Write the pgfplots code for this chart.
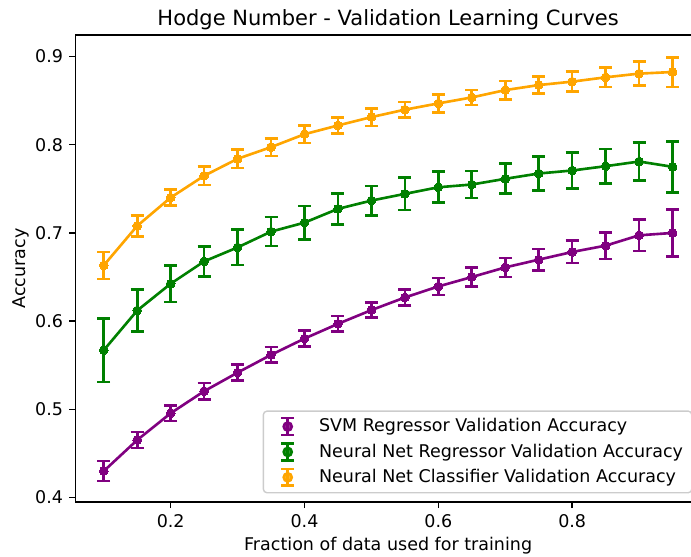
\documentclass[border=0pt]{standalone}
\usepackage{fontspec}
\setmainfont{DejaVu Sans}
\usepackage{pgfplots}
\usepackage{pgfplotstable}
\pgfplotsset{compat=1.18}
\definecolor{mplpurple}{HTML}{800080}
\definecolor{mplgreen}{HTML}{008000}
\definecolor{mplorange}{HTML}{FFA500}

\pgfplotstableread{
x y e
0.10 0.4299 0.0114
0.15 0.4651 0.0090
0.20 0.4955 0.0087
0.25 0.5205 0.0093
0.30 0.5416 0.0090
0.35 0.5617 0.0088
0.40 0.5802 0.0090
0.45 0.5969 0.0090
0.50 0.6125 0.0087
0.55 0.6268 0.0090
0.60 0.6393 0.0097
0.65 0.6500 0.0107
0.70 0.6609 0.0108
0.75 0.6697 0.0120
0.80 0.6784 0.0127
0.85 0.6856 0.0150
0.90 0.6973 0.0177
0.95 0.7000 0.0269
}\svm

\pgfplotstableread{
x y e
0.10 0.5670 0.0360
0.15 0.6120 0.0240
0.20 0.6424 0.0206
0.25 0.6677 0.0168
0.30 0.6836 0.0200
0.35 0.7015 0.0165
0.40 0.7117 0.0190
0.45 0.7273 0.0176
0.50 0.7367 0.0167
0.55 0.7443 0.0183
0.60 0.7518 0.0176
0.65 0.7549 0.0153
0.70 0.7614 0.0170
0.75 0.7674 0.0193
0.80 0.7708 0.0205
0.85 0.7757 0.0195
0.90 0.7810 0.0214
0.95 0.7750 0.0290
}\nnreg

\pgfplotstableread{
x y e
0.10 0.6632 0.0153
0.15 0.7080 0.0120
0.20 0.7401 0.0090
0.25 0.7648 0.0104
0.30 0.7841 0.0104
0.35 0.7973 0.0100
0.40 0.8120 0.0099
0.45 0.8219 0.0093
0.50 0.8314 0.0100
0.55 0.8398 0.0088
0.60 0.8469 0.0104
0.65 0.8537 0.0085
0.70 0.8620 0.0104
0.75 0.8677 0.0099
0.80 0.8716 0.0114
0.85 0.8765 0.0108
0.90 0.8807 0.0135
0.95 0.8825 0.0168
}\nnclf

\pgfplotsset{
  ebplot/.style={
    color=#1, line width=1.5pt, mark=*, mark size=2.5pt,
    mark options={solid, fill=#1, draw=#1, line width=0pt},
    error bars/y dir=both, error bars/y explicit,
    error bars/error mark=|,
    error bars/error mark options={#1, line width=1.5pt, mark size=3.7pt},
    error bars/error bar style={#1, line width=1.5pt},
  },
  ebleg/.style={
    legend image code/.code={
      \path[draw=none, fill=none] (0pt,-7.25pt) rectangle (26.8pt,7.25pt);
      \draw[#1, line width=1.5pt] (8.9pt,-4.8pt) -- (8.9pt,4.8pt);
      \draw[#1, line width=1.5pt] (5.3pt,-4.8pt) -- (12.5pt,-4.8pt);
      \draw[#1, line width=1.5pt] (5.3pt,4.8pt) -- (12.5pt,4.8pt);
      \fill[#1] (8.9pt,0pt) circle (2.3pt);
    }
  },
}

\begin{document}
\begin{tikzpicture}
\begin{axis}[
  scale only axis,
  width=357.5pt, height=266.9pt,
  xmin=0.0575, xmax=0.9925, ymin=0.3947, ymax=0.9245,
  xtick={0.2,0.4,0.6,0.8},
  ytick={0.4,0.5,0.6,0.7,0.8,0.9},
  xticklabels={0.2,0.4,0.6,0.8},
  yticklabels={0.4,0.5,0.6,0.7,0.8,0.9},
  tick align=outside, tick pos=left,
  major tick length=3.5pt,
  every tick/.style={black, line width=0.8pt},
  axis line style={line width=0.8pt},
  ticklabel style={font=\fontsize{10}{12}\selectfont},
  title={Hodge Number - Validation Learning Curves},
  every axis title shift=5.7pt,
  title style={at={(axis description cs:0.5,1)}, anchor=base, font=\fontsize{12}{14}\selectfont, inner sep=0pt},
  xlabel={Fraction of data used for training},
  ylabel={Accuracy},
  xlabel style={at={(axis description cs:0.5,-0.1029)}, anchor=base, font=\fontsize{10}{12}\selectfont, inner sep=0pt},
  ylabel style={at={(axis description cs:-0.0803,0.5)}, anchor=base, font=\fontsize{10}{12}\selectfont, inner sep=0pt},
  legend cell align=left,
  legend style={
    at={(rel axis cs:0.2995,0.0186)}, anchor=south west,
    draw=black!20, line width=0.8pt, rounded corners=2pt,
    fill=white, fill opacity=0.8, text opacity=1,
    inner xsep=5pt, inner ysep=1.55pt,
    column sep=0pt, row sep=0pt,
    font=\fontsize{10}{12}\selectfont,
    nodes={inner sep=0pt},
  },
]
\addplot[ebplot=mplpurple, ebleg=mplpurple] table[x=x, y=y, y error=e] {\svm};
\addlegendentry{SVM Regressor Validation Accuracy}
\addplot[ebplot=mplgreen, ebleg=mplgreen] table[x=x, y=y, y error=e] {\nnreg};
\addlegendentry{Neural Net Regressor Validation Accuracy}
\addplot[ebplot=mplorange, ebleg=mplorange] table[x=x, y=y, y error=e] {\nnclf};
\addlegendentry{Neural Net Classifier Validation Accuracy}
\end{axis}
\pgfresetboundingbox
\useasboundingbox (-43.03pt,-30.86pt) rectangle (351.8pt,286.9pt);
\end{tikzpicture}
\end{document}
